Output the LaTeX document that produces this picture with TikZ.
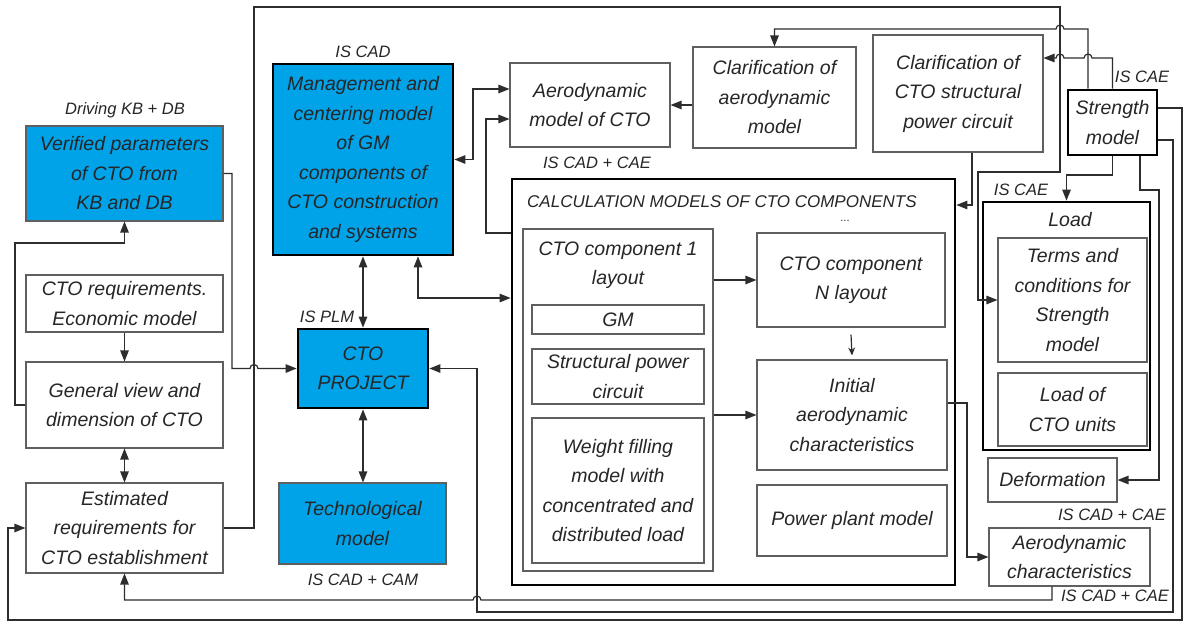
\documentclass[tikz,border=0pt]{standalone}
\usepackage{fontspec}
\setmainfont{Liberation Sans}
\usetikzlibrary{arrows.meta}
\definecolor{cblue}{RGB}{0,162,232}
\definecolor{lgray}{RGB}{95,95,95}
\definecolor{cline}{RGB}{45,45,45}
\newcommand\mybox[7]{\node[#1, minimum width={(#5)-(#3)}, minimum height={(#6)-(#4)}] (#2) at ({((#3)+(#5))/2},{((#4)+(#6))/2}) {#7};}
\begin{document}
\begin{tikzpicture}[x=1pt,y=-1pt,
  every node/.style={font=\itshape\fontsize{19.5}{29.5}\selectfont, text=black!85, align=center, inner sep=0pt},
  thinbox/.style={draw=lgray, line width=1.1pt},
  thickbox/.style={draw=black, line width=2.8pt},
  bluefill/.style={fill=cblue},
  lab/.style={font=\itshape\fontsize{16.5}{20}\selectfont},
  capt/.style={font=\itshape\fontsize{17}{24}\selectfont},
  arr/.style={draw=cline, line width=1.2pt, -{Triangle[length=11pt,width=8.5pt]}},
  darr/.style={draw=cline, line width=1.2pt, {Triangle[length=11pt,width=8.5pt]}-{Triangle[length=11pt,width=8.5pt]}},
  sarr/.style={draw=cline, line width=1.2pt, -{Stealth[length=8pt,width=7pt]}}
]
\useasboundingbox (0,0) rectangle (1184,622);
\fill[white] (0,0) rectangle (1184,622);

% boxes
\mybox{thinbox,bluefill}{verif}{26}{126}{223}{221}{Verified parameters\\of CTO from\\KB and DB}
\mybox{thinbox}{creq}{26}{275}{223}{332}{CTO requirements.\\Economic model}
\mybox{thinbox}{genv}{26}{362}{223}{448}{General view and\\dimension of CTO}
\mybox{thinbox}{est}{26}{483}{223}{573}{Estimated\\requirements for\\CTO establishment}
\mybox{thickbox,bluefill}{mgmt}{273}{64}{453}{255}{Management and\\centering model\\of GM\\components of\\CTO construction\\and systems}
\mybox{thickbox,bluefill}{proj}{298}{329}{428}{408}{CTO\\PROJECT}
\mybox{thinbox,bluefill}{tech}{279}{483}{446}{564}{Technological\\model}
\mybox{thinbox}{aero}{510}{63}{670}{147}{Aerodynamic\\model of CTO}
\mybox{thinbox}{claero}{693}{47}{856}{148}{Clarification of\\aerodynamic\\model}
\mybox{thinbox}{clstr}{873}{35}{1043}{152}{Clarification of\\CTO structural\\power circuit}
\mybox{thickbox}{str}{1068}{90}{1157}{155}{Strength\\model}
\mybox{thickbox}{calc}{512}{179}{955}{585}{}
\mybox{thinbox}{comp1}{523}{229}{713}{571}{}
\mybox{thinbox}{gm}{532}{305}{704}{334}{GM}
\mybox{thinbox}{spc}{532}{349}{704}{404}{Structural power\\circuit}
\mybox{thinbox}{wfm}{532}{418}{704}{563}{Weight filling\\model with\\concentrated and\\distributed load}
\mybox{thinbox}{compN}{757}{233}{945}{327}{CTO component\\N layout}
\mybox{thinbox}{init}{757}{360}{947}{470}{Initial\\aerodynamic\\characteristics}
\mybox{thinbox}{pp}{757}{485}{947}{556}{Power plant model}
\mybox{thickbox}{load}{983}{202}{1150}{450}{}
\mybox{thinbox}{terms}{998}{238}{1147}{362}{Terms and\\conditions for\\Strength\\model}
\mybox{thinbox}{lcu}{998}{373}{1147}{446}{Load of\\CTO units}
\mybox{thinbox}{deform}{988}{458}{1117}{502}{Deformation}
\mybox{thinbox}{achar}{989}{528}{1150}{586}{Aerodynamic\\characteristics}

% titles inside containers
\node[capt, anchor=west] (calct) at (527,202) {CALCULATION MODELS OF CTO COMPONENTS};
\node[font=\fontsize{11}{12}\selectfont] (dots) at (845,221) {...};
\node (comp1t) at (618,265) {CTO component 1\\layout};
\node (loadt) at (1070,220) {Load};

% labels
\node[lab] (lkb) at (125,110) {Driving KB + DB};
\node[lab] (liscad) at (363,52) {IS CAD};
\node[lab] (lplm) at (327,317) {IS PLM};
\node[lab] (lcam) at (363,580) {IS CAD + CAM};
\node[lab] (lcae1) at (597,163) {IS CAD + CAE};
\node[lab] (lcae2) at (1142,77) {IS CAE};
\node[lab] (lcae3) at (1021,190) {IS CAE};
\node[lab] (lcae4) at (1112,515) {IS CAD + CAE};
\node[lab] (lcae5) at (1115,596) {IS CAD + CAE};

% helper coordinates
\coordinate (k58) at (0,58);
\coordinate (k89) at (0,89);
\coordinate (k108) at (0,108);
\coordinate (k119) at (0,119);
\coordinate (k140) at (0,140);
\coordinate (k205) at (0,205);
\coordinate (k233) at (0,233);
\coordinate (k298) at (0,298);
\coordinate (k403) at (0,403);

% connectors
\draw[arr] (genv.west) -- (15,405) -- (15,243) -| (verif.south);
\draw[arr] (creq.south) -- (genv.north);
\draw[darr] (genv.south) -- (est.north);
\draw[arr] (verif.east) -- (232,173.5) -- (232,368.5) -- (250,368.5) arc[start angle=180,end angle=0,radius=4pt] -- (proj.west);
\draw[arr] (est.east) -- (254,528) -- (254,7) -- (1060,7) -- (1060,172) -- (978,172) |- (terms.west);
\draw[arr] ([xshift=14pt]clstr.south) |- (calc.east |- k205);
\draw[darr] (mgmt.south) -- (proj.north);
\draw[darr] (proj.south) -- (proj.south |- tech.north);
\draw[darr] (mgmt.east) -- (473,159.5) |- (aero.west |- k89);
\draw[arr] (calc.west |- k233) -- (486,233) |- (aero.west |- k119);
\draw[darr] ([xshift=55pt]mgmt.south) |- (calc.west |- k298);
\draw[arr] (claero.west |- aero.east) -- (aero.east);
\draw[arr] ([xshift=-24.5pt]str.north) -- (1088,29) -- (1064,29) arc[start angle=0,end angle=180,radius=4pt] -| (claero.north);
\draw[arr] (str.north) -- (1112.5,58) -- (1092,58) arc[start angle=0,end angle=180,radius=4pt] -- (1064,58) arc[start angle=0,end angle=180,radius=4pt] -- (clstr.east |- k58);
\draw[arr] (str.south) -- (1112.5,175) -| (load.north);
\draw[arr] ([xshift=27.5pt]str.south) -- (1140,190) -- (1159,190) |- (deform.east);
\draw[arr] (str.east |- k140) -- (1173,140) -- (1173,612) -- (477,612) |- (proj.east);
\draw[arr] (str.east |- k108) -- (1182,108) -- (1182,620) -- (8,620) |- (est.west);
\draw[arr] ([xshift=-17.5pt]achar.south) -- (1052,600) -- (481,600) arc[start angle=0,end angle=180,radius=4pt] -| (est.south);
\draw[arr] (comp1.east |- compN.west) -- (compN.west);
\draw[arr] (comp1.east |- init.west) -- (init.west);
\draw[sarr] ([yshift=-7pt]compN.south) -- ([yshift=4pt]init.north);
\draw[arr] (init.east |- k403) -- (967,403) |- (achar.west);
\end{tikzpicture}
\end{document}
